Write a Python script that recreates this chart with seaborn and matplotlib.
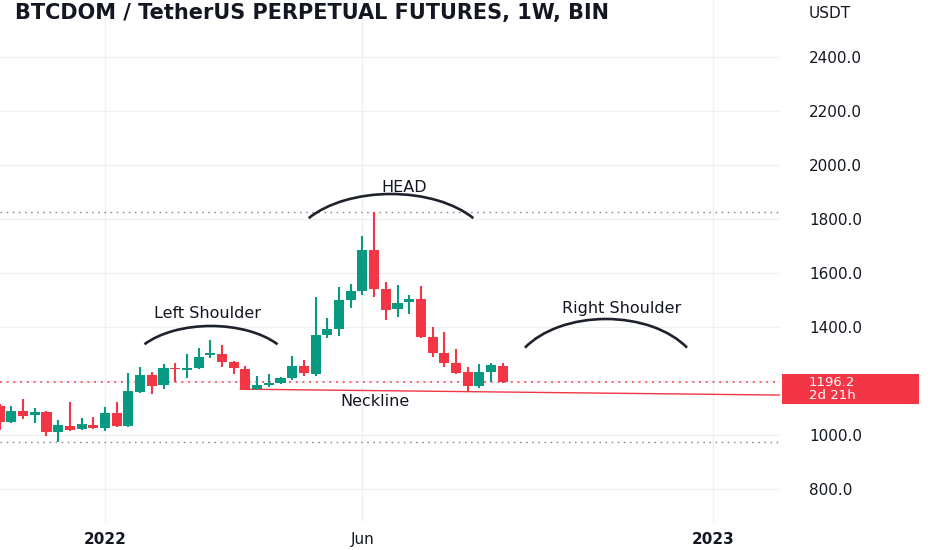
import numpy as np
import pandas as pd
import matplotlib
matplotlib.use("Agg")
import matplotlib.pyplot as plt
import matplotlib.dates as mdates
from matplotlib.patches import Arc, Rectangle
from matplotlib.transforms import blended_transform_factory
import seaborn as sns

# ---------------- data (weekly candles) ----------------
first_week = "2021-11-01"
opens  = [1107, 1048, 1089, 1074, 1085, 1011, 1033, 1022, 1037, 1026, 1082, 1033,
          1159, 1222, 1185, 1248, 1241, 1248, 1296, 1300, 1270, 1244, 1170, 1185,
          1193, 1211, 1256, 1226, 1370, 1393, 1500, 1533, 1685, 1541, 1467, 1493,
          1504, 1363, 1304, 1267, 1233, 1182, 1233, 1256]
highs  = [1115, 1107, 1133, 1100, 1089, 1056, 1122, 1063, 1067, 1104, 1122, 1230,
          1252, 1233, 1263, 1267, 1300, 1322, 1352, 1333, 1274, 1256, 1219, 1226,
          1215, 1293, 1278, 1511, 1433, 1548, 1559, 1737, 1826, 1567, 1556, 1519,
          1552, 1400, 1381, 1319, 1252, 1263, 1267, 1267]
lows   = [1019, 1045, 1059, 1044, 996, 974, 1015, 1019, 1024, 1015, 1030, 1030,
          1155, 1152, 1170, 1196, 1211, 1246, 1285, 1252, 1226, 1165, 1168, 1178,
          1189, 1204, 1219, 1219, 1359, 1367, 1470, 1519, 1511, 1426, 1437, 1448,
          1359, 1289, 1252, 1226, 1159, 1174, 1196, 1193]
closes = [1048, 1089, 1070, 1085, 1011, 1037, 1019, 1041, 1026, 1082, 1033, 1163,
          1222, 1182, 1248, 1244, 1248, 1289, 1304, 1270, 1248, 1167, 1185, 1193,
          1211, 1256, 1230, 1370, 1393, 1500, 1533, 1685, 1541, 1463, 1489, 1504,
          1363, 1304, 1267, 1230, 1182, 1233, 1259, 1196.2]

last_price = 1196.2
countdown = "2d 21h"
head_high_level = 1826
support_low_level = 974
neckline_weeks = [20.55, 66.7]      # week offsets from first_week
neckline_prices = [1170, 1148]

ytick_values = [800, 1000, 1200, 1400, 1600, 1800, 2000, 2200, 2400]
ytick_labels = ["800.0", "1000.0", "", "1400.0", "1600.0", "1800.0", "2000.0", "2200.0", "2400.0"]
xtick_dates = ["2022-01-03", "2022-06-06", "2023-01-02"]
xtick_labels = ["2022", "Jun", "2023"]

title = "BTCDOM / TetherUS PERPETUAL FUTURES, 1W, BIN"
currency = "USDT"
annotations = ["HEAD", "Left Shoulder", "Right Shoulder", "Neckline"]

# ---------------- style ----------------
GREEN = "#089981"
RED = "#F23645"
TXT = "#131722"
GRID = "#EEF0F4"
DOTGRAY = "#8A8D96"

sns.set_theme(style="white")
plt.rcParams["font.family"] = ["DejaVu Sans"]

W, H = 932, 550
AX_W, AX_H = 780, 522
fig = plt.figure(figsize=(W / 100, H / 100), dpi=100, facecolor="white")
ax = fig.add_axes([0, (H - AX_H) / H, AX_W / W, AX_H / H])
ax.set_facecolor("white")

dates = pd.date_range(first_week, periods=len(opens), freq="7D")
df = pd.DataFrame({"date": dates, "open": opens, "high": highs,
                   "low": lows, "close": closes})
df["x"] = mdates.date2num(df["date"])
up = df["close"] >= df["open"]
colors = np.where(up, GREEN, RED)

x0 = mdates.date2num(pd.Timestamp(first_week))
ax.set_xlim(x0 + 0.026 * 7, x0 + 66.69 * 7)
ylim = (678, 2611)
ax.set_ylim(*ylim)
px = (ylim[1] - ylim[0]) / AX_H   # price units per pixel

# grid
ax.set_axisbelow(True)
ax.set_yticks(ytick_values)
ax.set_yticklabels(ytick_labels)
ax.set_xticks(mdates.date2num(pd.to_datetime(xtick_dates)))
ax.set_xticklabels(xtick_labels)
ax.grid(True, color=GRID, lw=1.0)

# level lines
dot = (0, (1.2, 3.2))
ax.axhline(head_high_level, color=DOTGRAY, lw=1.0, ls=dot, zorder=1)
ax.axhline(support_low_level, color=DOTGRAY, lw=1.0, ls=dot, zorder=1)
ax.axhline(last_price, color=RED, lw=1.1, ls=dot, zorder=1)

# neckline
nx = [x0 + w * 7 for w in neckline_weeks]
ax.plot(nx, neckline_prices, color=RED, lw=1.0, zorder=1.5)

# candles: wicks and bodies
ax.vlines(df["x"], df["low"], df["high"], colors=colors, lw=1.5, zorder=2)
body_bottom = np.minimum(df["open"], df["close"])
body_h = np.maximum(np.abs(df["close"] - df["open"]), 4)
ax.bar(df["x"], body_h, bottom=body_bottom, width=6.0, color=colors,
       linewidth=0, zorder=3)

# pattern arcs (pixel geometry converted to axes fraction)
def arc(cx, cy, a, b):
    return Arc((cx / AX_W, 1 - cy / AX_H), 2 * a / AX_W, 2 * b / AX_H,
               theta1=30, theta2=150, transform=ax.transAxes,
               color="#1E222D", lw=1.9, zorder=4)

ax.add_patch(arc(391, 250, 100, 56))
ax.add_patch(arc(211, 370, 82, 44))
ax.add_patch(arc(606, 379, 95, 60))

lab_pos = [(404, 187), (207, 314), (622, 309), (375, 402)]
for txt, (lx, ly) in zip(annotations, lab_pos):
    ax.text(lx / AX_W, 1 - ly / AX_H, txt, transform=ax.transAxes,
            ha="center", va="center", fontsize=11.5, color=TXT, zorder=5)

# title (clipped by the price scale)
ax.text(15 / AX_W, 1 - 19 / AX_H, title, transform=ax.transAxes,
        ha="left", va="baseline", fontsize=15, fontweight="bold",
        color=TXT, clip_on=True, zorder=6)

# axes styling
for s in ax.spines.values():
    s.set_visible(False)
ax.yaxis.tick_right()
ax.tick_params(axis="y", length=0, pad=20.9, labelsize=11, labelcolor=TXT)
ax.tick_params(axis="x", length=0, pad=7, labelsize=11, labelcolor=TXT)
for lbl in ax.get_xticklabels():
    if lbl.get_text() != "Jun":
        lbl.set_fontweight("bold")

fig.text(809 / W, 1 - 13 / H, currency, ha="left", va="center",
         fontsize=11, color=TXT)

# last-price label box
trans = blended_transform_factory(ax.transAxes, ax.transData)
ax.add_patch(Rectangle((782 / AX_W, last_price - 22 * px), (919 - 782) / AX_W,
                       30 * px, transform=trans, facecolor=RED,
                       edgecolor="none", clip_on=False, zorder=10))
ax.text(809 / AX_W, last_price - 6.8 * px, f"{last_price:.1f}\n{countdown}",
        transform=trans, ha="left", va="center", fontsize=9.5, linespacing=0.98,
        color="white", clip_on=False, zorder=11)

fig.savefig("out.png", dpi=100, facecolor="white")
